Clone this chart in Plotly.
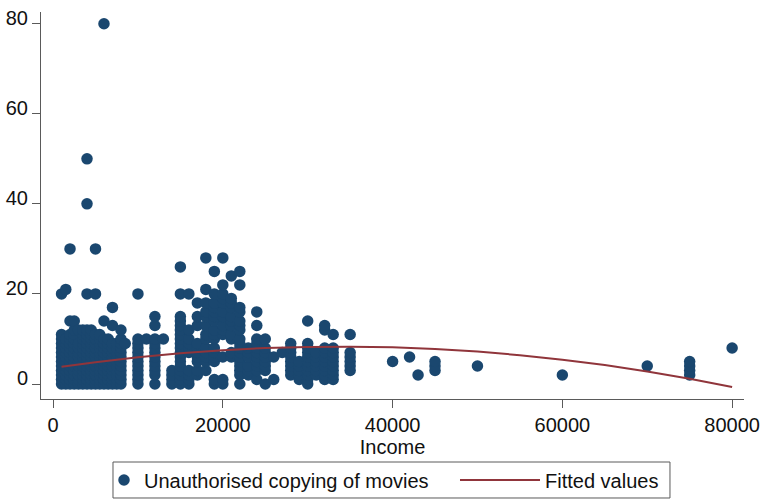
import plotly.graph_objects as go

income_levels = [
    1000, 1500, 2000, 2500, 3000, 3500, 4000, 4500, 5000, 5500, 6000, 6500,
    7000, 7500, 8000, 8500, 10000, 11000, 12000, 13000, 14000, 15000, 16000,
    17000, 18000, 19000, 20000, 21000, 22000, 23000, 24000, 25000, 26000,
    27000, 28000, 29000, 30000, 31000, 32000, 33000, 35000, 40000, 42000,
    43000, 45000, 50000, 60000, 70000, 75000, 80000,
]
copying_at_level = [
    [0, 1, 2, 3, 4, 5, 6, 7, 8, 9, 10, 11, 20],                 # 1000
    [0, 1, 2, 3, 4, 5, 6, 7, 8, 9, 10, 21],                     # 1500
    [0, 1, 2, 3, 4, 5, 6, 7, 8, 9, 10, 11, 14, 30],             # 2000
    [0, 1, 2, 3, 4, 5, 6, 7, 8, 9, 10, 11, 12, 14],             # 2500
    [0, 1, 2, 3, 4, 5, 6, 7, 8, 9, 12],                         # 3000
    [0, 1, 2, 3, 4, 5, 6, 7, 8, 9, 10, 11, 12],                 # 3500
    [0, 1, 2, 3, 4, 5, 6, 7, 8, 9, 10, 11, 12, 20, 40, 50],     # 4000
    [0, 1, 2, 3, 4, 5, 6, 7, 8, 9, 10, 11, 12],                 # 4500
    [0, 1, 2, 3, 4, 5, 6, 7, 8, 9, 10, 11, 20, 30],             # 5000
    [0, 1, 2, 3, 4, 5, 6, 7, 8, 9, 10, 11],                     # 5500
    [0, 1, 2, 3, 4, 5, 6, 7, 8, 9, 10, 14, 80],                 # 6000
    [0, 1, 2, 3, 4, 5, 6, 7, 8, 9, 10],                         # 6500
    [0, 1, 2, 3, 4, 5, 6, 7, 8, 9, 13, 17],                     # 7000
    [0, 1, 2, 3, 4, 5, 6, 7, 8, 9],                             # 7500
    [0, 1, 2, 3, 4, 5, 6, 7, 8, 9, 10, 12],                     # 8000
    [9],                                                        # 8500
    [0, 1, 2, 3, 4, 5, 6, 7, 8, 9, 10, 20],                     # 10000
    [10],                                                       # 11000
    [0, 2, 3, 4, 5, 6, 7, 8, 9, 10, 13, 15],                    # 12000
    [10],                                                       # 13000
    [0, 1, 2, 3],                                               # 14000
    [0, 1, 2, 3, 4, 5, 6, 7, 8, 9, 10, 11, 12, 13, 14, 15, 20, 26],  # 15000
    [0, 1, 2, 3, 7, 8, 9, 10, 12, 20],                          # 16000
    [2, 3, 5, 6, 7, 8, 9, 13, 15, 18],                          # 17000
    [3, 5, 6, 7, 8, 10, 11, 13, 15, 16, 18, 21, 28],            # 18000
    [0, 1, 5, 6, 7, 8, 10, 11, 12, 14, 15, 16, 17, 18, 20, 25], # 19000
    [0, 1, 6, 11, 12, 13, 15, 16, 18, 19, 20, 22, 28],          # 20000
    [6, 7, 10, 11, 13, 14, 15, 17, 18, 19, 24],                 # 21000
    [0, 2, 3, 4, 5, 6, 7, 8, 9, 10, 12, 13, 14, 16, 17, 22, 25],  # 22000
    [2, 3, 4, 6, 7, 8],                                         # 23000
    [1, 3, 4, 5, 6, 7, 8, 9, 10, 13, 16],                       # 24000
    [0, 3, 4, 5, 6, 7, 8, 10],                                  # 25000
    [1, 6],                                                     # 26000
    [7],                                                        # 27000
    [2, 3, 4, 5, 6, 7, 8, 9],                                   # 28000
    [1, 2, 3, 4, 5],                                            # 29000
    [0, 1, 2, 3, 4, 5, 6, 7, 8, 9, 14],                         # 30000
    [2, 3, 4, 5, 6, 7],                                         # 31000
    [1, 2, 3, 4, 5, 6, 7, 8, 12, 13],                           # 32000
    [1, 2, 3, 4, 5, 6, 7, 8, 11],                               # 33000
    [3, 4, 5, 6, 7, 11],                                        # 35000
    [5],                                                        # 40000
    [6],                                                        # 42000
    [2],                                                        # 43000
    [3, 4, 5],                                                  # 45000
    [4],                                                        # 50000
    [2],                                                        # 60000
    [4],                                                        # 70000
    [2, 3, 4, 5],                                               # 75000
    [8],                                                        # 80000
]

# quadratic-fit line
fit_income = [1000, 5000, 10000, 15000, 20000, 25000, 30000, 35000, 40000,
              45000, 50000, 55000, 60000, 65000, 70000, 75000, 80000]
fit_values = [3.81, 4.84, 5.94, 6.83, 7.51, 7.98, 8.24, 8.29, 8.14,
              7.77, 7.19, 6.40, 5.41, 4.20, 2.78, 1.16, -0.68]

x_ticks = [0, 20000, 40000, 60000, 80000]
y_ticks = [0, 20, 40, 60, 80]

# flatten the table into point lists
income = []
copying = []
for lvl, vals in zip(income_levels, copying_at_level):
    for v in vals:
        income.append(lvl)
        copying.append(v)

FONT = "Liberation Sans, Arial, Helvetica, sans-serif"
NAVY = "#1a476f"
MAROON = "#90353b"
AXIS = "#5a5a5a"
TXT = "#111111"

fig = go.Figure()
fig.add_trace(go.Scatter(
    x=income, y=copying, mode="markers",
    name="Unauthorised copying of movies",
    marker=dict(color=NAVY, size=11.5, line=dict(width=0)),
    legend="legend",
))
fig.add_trace(go.Scatter(
    x=fit_income, y=fit_values, mode="lines",
    name="Fitted values",
    line=dict(color=MAROON, width=2),
    legend="legend2",
))

fig.update_layout(
    width=762, height=499,
    margin=dict(l=41, r=18, t=12, b=100, autoexpand=False),
    paper_bgcolor="white", plot_bgcolor="white",
    font=dict(family=FONT, size=20, color=TXT),
    showlegend=True,
    legend=dict(
        orientation="h", x=0.0896, xanchor="left", y=-0.2093, yanchor="middle",
        borderwidth=0, bgcolor="rgba(0,0,0,0)", itemwidth=30,
        font=dict(family=FONT, size=20, color=TXT),
    ),
    legend2=dict(
        orientation="h", x=0.5889, xanchor="left", y=-0.2093, yanchor="middle",
        borderwidth=0, bgcolor="rgba(0,0,0,0)", itemwidth=80,
        font=dict(family=FONT, size=20, color=TXT),
    ),
    shapes=[dict(
        type="rect", xref="paper", yref="paper",
        x0=0.1024, x1=0.8947, y0=-0.2558, y1=-0.1628,
        line=dict(color=AXIS, width=1), fillcolor="rgba(0,0,0,0)",
    )],
)
fig.update_xaxes(
    range=[-1420, 81400], tickvals=x_ticks, tickformat="d",
    showgrid=False, zeroline=False, showline=True, linecolor=AXIS, linewidth=1,
    ticks="outside", ticklen=8, tickcolor=AXIS, tickwidth=1,
    tickfont=dict(family=FONT, size=20, color=TXT),
    title=dict(text="Income", standoff=0, font=dict(family=FONT, size=20, color=TXT)),
    automargin=False,
)
fig.update_yaxes(
    range=[-3.33, 82.6], tickvals=y_ticks,
    showgrid=False, zeroline=False, showline=True, linecolor=AXIS, linewidth=1,
    ticks="outside", ticklen=8, tickcolor=AXIS, tickwidth=1,
    ticklabelshift=-6,
    tickfont=dict(family=FONT, size=20, color=TXT),
    automargin=False,
)

# remove the default 8px page margin so the figure fills the window exactly
fig.write_html("out.html", config={"displayModeBar": False},
               post_script="document.body.style.margin='0';")
